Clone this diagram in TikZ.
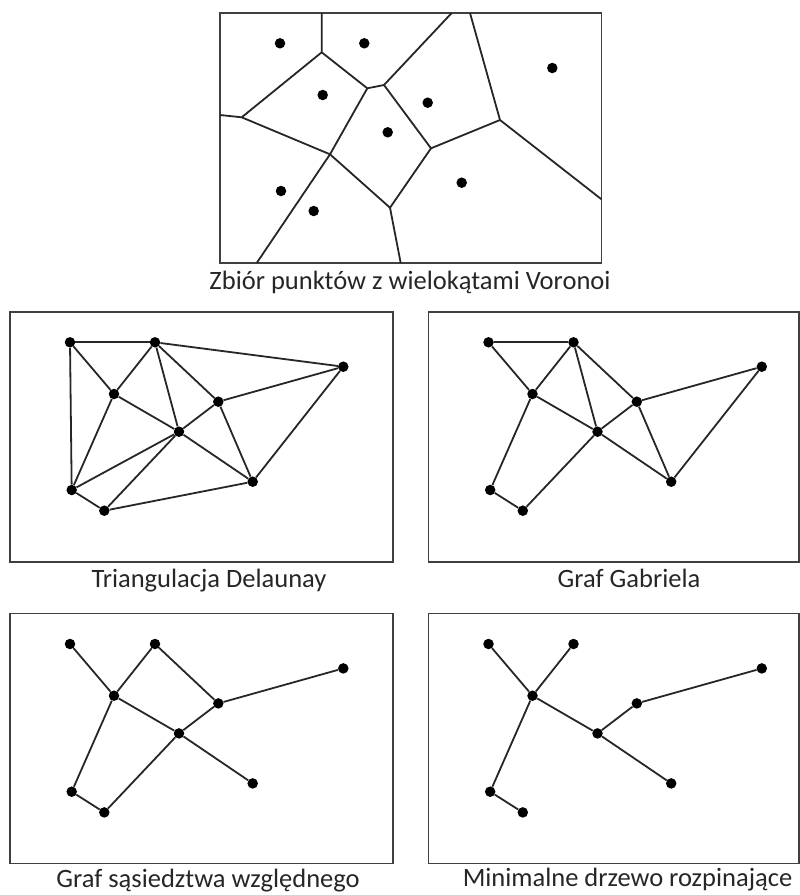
\documentclass[tikz,border=0pt]{standalone}
\usepackage{fontspec}
\setmainfont{Carlito}
\begin{document}
\begin{tikzpicture}[x=1pt,y=-1pt,
  dot/.style={circle,fill=black,inner sep=0pt,minimum size=10.5pt},
  frame/.style={draw=black!75,line width=1.5pt},
  edge/.style={draw=black!85,line width=1.8pt},
  lbl/.style={anchor=base,text=black!85,font=\fontsize{26.5}{30}\selectfont,inner sep=0pt}]
\useasboundingbox (0,0) rectangle (800,895);

% ---------- Voronoi ----------
\draw[frame] (220,13) rectangle (601.5,263);
\foreach \n/\x/\y in {p1/280/43.3, p2/364.3/43.3, p3/552.3/68, p4/322.7/95, p5/427.7/102.7,
  p6/387.7/132.3, p7/461.7/182.7, p8/281/191, p9/313.7/211}
  {\node[dot] (v\n) at (\x,\y) {};}
\foreach \n/\x/\y in {t1/321.7/13, t2/451.7/13, t3/470/13, l1/220/115, r1/601.5/199.3,
  b1/256.7/263, b2/400.7/263,
  V1/321.7/52.3, V2/241.7/117.3, V3/367.3/88.3, V4/384/85, V5/500/120,
  V6/431/148.3, V7/330/154.3, V8/390/207.7}
  {\coordinate (v\n) at (\x,\y);}
\draw[edge] (vt1) -- (vV1) -- (vV2) -- (vl1);
\draw[edge] (vV1) -- (vV3) -- (vV4) -- (vt2);
\draw[edge] (vt3) -- (vV5) -- (vr1);
\draw[edge] (vV5) -- (vV6) -- (vV4);
\draw[edge] (vV3) -- (vV7) -- (vV2);
\draw[edge] (vV7) -- (vb1);
\draw[edge] (vV7) -- (vV8) -- (vV6);
\draw[edge] (vV8) -- (vb2);
\node[lbl] (lv) at (410,289) {Zbiór punktów z wielokątami Voronoi};

% ---------- four graph panels ----------
\foreach \p/\ox/\oy in {d/0/0, g/418.5/0, r/0/301.7, m/418.5/301.7}{
  \foreach \n/\x/\y in {A/70/342.3, B/155/342.3, C/343.3/366.7, D/114/394, E/218.3/401.7,
    F/179/431.7, G/252.7/481.7, H/71.7/490, I/104.3/510.7}
    {\node[dot] (\p\n) at (\x+\ox,\y+\oy) {};}
}
\draw[frame] (10,312) rectangle (393,562);
\draw[frame] (10,613.7) rectangle (393,863.7);
\draw[frame] (428.5,312) rectangle (799.2,562);
\draw[frame] (428.5,613.7) rectangle (799.2,863.7);

% Delaunay
\foreach \a/\b in {A/B, A/D, A/H, B/D, B/F, B/E, B/C, C/E, C/G, D/F, D/H, E/F, E/G, F/G, F/H, F/I, H/I, I/G}
  {\draw[edge] (d\a) -- (d\b);}
% Gabriel
\foreach \a/\b in {A/B, A/D, B/D, B/F, B/E, D/F, D/H, E/F, E/C, E/G, F/G, C/G, H/I, I/F}
  {\draw[edge] (g\a) -- (g\b);}
% Relative neighbourhood
\foreach \a/\b in {A/D, B/D, B/E, E/C, D/F, E/F, F/G, D/H, H/I, I/F}
  {\draw[edge] (r\a) -- (r\b);}
% MST
\foreach \a/\b in {A/D, B/D, D/F, D/H, H/I, F/E, E/C, F/G}
  {\draw[edge] (m\a) -- (m\b);}

\node[lbl] (ld) at (209,587) {Triangulacja Delaunay};
\node[lbl] (lg) at (629,587) {Graf Gabriela};
\node[lbl] (lr) at (208,887.5) {Graf sąsiedztwa względnego};
\node[lbl] (lm) at (627.5,886.5) {Minimalne drzewo rozpinające};
\end{tikzpicture}
\end{document}
